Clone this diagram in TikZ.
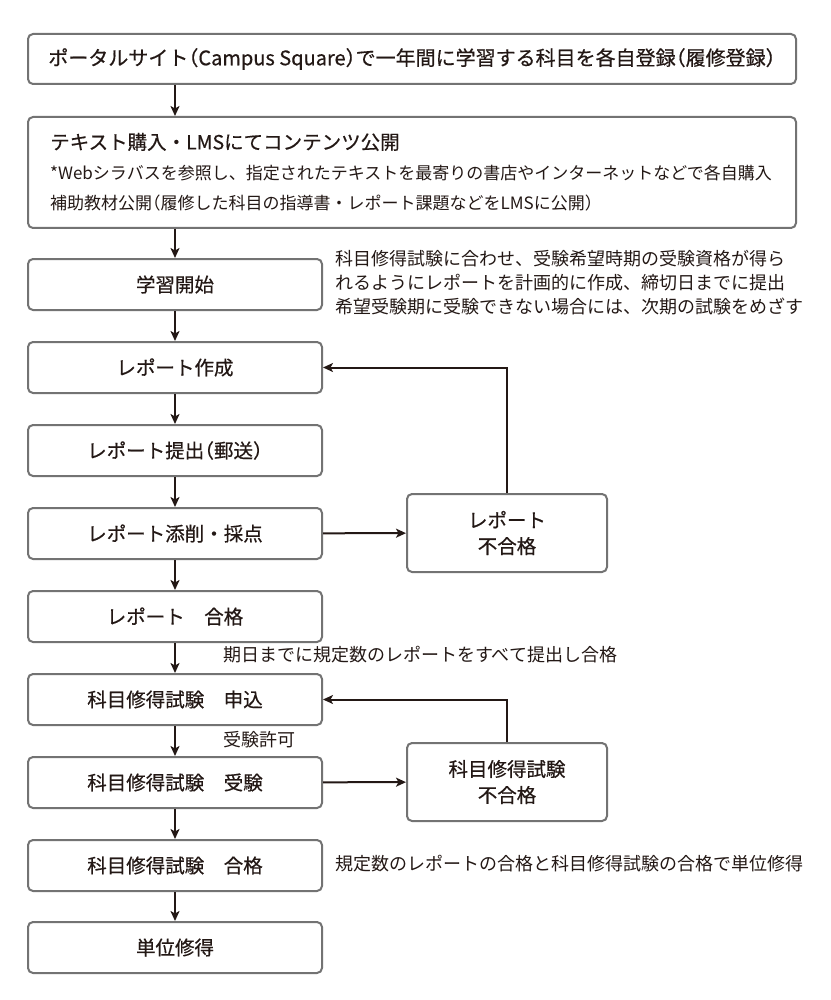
\documentclass[tikz,border=0pt]{standalone}
\usepackage{fontspec}
\setmainfont{Noto Sans CJK JP}
\newfontfamily\medfont[FakeBold=0.5]{Noto Sans CJK JP}
\newcommand{\lpar}{{\addfontfeature{RawFeature=+halt}（}}
\newcommand{\rpar}{{\addfontfeature{RawFeature=+halt}）}}
\usetikzlibrary{arrows.meta,calc}
\definecolor{boxgray}{HTML}{737373}
\definecolor{ink}{HTML}{231815}
\tikzset{
  box/.style={draw=boxgray, line width=2pt, rounded corners=5pt, fill=white,
    anchor=north west, inner sep=0pt, text=ink, align=center,
    font=\medfont\fontsize{19.5}{26}\selectfont},
  leftbox/.style={box, minimum width=294pt, minimum height=51pt},
  rightbox/.style={box, minimum width=200pt, minimum height=78pt},
  arr/.style={draw=ink, line width=2pt, -{Stealth[length=10pt,width=9pt,inset=2.5pt]}},
  note/.style={text=ink, inner sep=0pt, align=left, font=\fontsize{18}{24}\selectfont},
  txt/.style={text=ink, inner sep=0pt, anchor=west}
}
\begin{document}
\begin{tikzpicture}[x=1pt,y=-1pt]
\useasboundingbox (0,0) rectangle (830,1000);
% top boxes
\node[box, minimum width=768pt, minimum height=50pt, font=\medfont\fontsize{20}{26}\selectfont] (b1) at (27,33)
  {ポータルサイト\lpar Campus Square\rpar で一年間に学習する科目を各自登録\lpar 履修登録\rpar};
\node[box, minimum width=768pt, minimum height=111pt] (b2) at (27,116) {};
\node[txt, font=\medfont\fontsize{19.5}{24}\selectfont] (t2a) at (50,142) {テキスト購入・LMSにてコンテンツ公開};
\node[txt, font=\fontsize{17}{22}\selectfont] (t2b) at (50,173) {*Webシラバスを参照し、指定されたテキストを最寄りの書店やインターネットなどで各自購入};
\node[txt, font=\fontsize{17}{22}\selectfont] (t2c) at (50,203) {補助教材公開\lpar 履修した科目の指導書・レポート課題などをLMSに公開\rpar};
% left column
\node[leftbox] (b3) at (27,258) {学習開始};
\node[leftbox] (b4) at (27,341) {レポート作成};
\node[leftbox] (b5) at (27,424) {レポート提出\lpar 郵送\rpar};
\node[leftbox] (b6) at (27,507) {レポート添削・採点};
\node[leftbox] (b7) at (27,590) {レポート　合格};
\node[leftbox] (b8) at (27,673) {科目修得試験　申込};
\node[leftbox] (b9) at (27,756) {科目修得試験　受験};
\node[leftbox] (b10) at (27,839) {科目修得試験　合格};
\node[leftbox] (b11) at (27,921) {単位修得};
% right boxes
\node[rightbox] (r1) at (406,493) {レポート\\不合格};
\node[rightbox] (r2) at (406,742) {科目修得試験\\不合格};
% notes
\node[note, anchor=west] (n1) at (335,283) {科目修得試験に合わせ、受験希望時期の受験資格が得ら\\れるようにレポートを計画的に作成、締切日までに提出\\希望受験期に受験できない場合には、次期の試験をめざす};
\node[note, anchor=west] (n2) at (223,655) {期日までに規定数のレポートをすべて提出し合格};
\node[note, anchor=west] (n3) at (223,740) {受験許可};
\node[note, anchor=west] (n4) at (335,864) {規定数のレポートの合格と科目修得試験の合格で単位修得};
% arrows
\draw[arr] (b1.south -| b3) -- (b2.north -| b3);
\draw[arr] (b2.south -| b3) -- (b3.north);
\draw[arr] (b3) -- (b4);
\draw[arr] (b4) -- (b5);
\draw[arr] (b5) -- (b6);
\draw[arr] (b6) -- (b7);
\draw[arr] (b7) -- (b8);
\draw[arr] (b8) -- (b9);
\draw[arr] (b9) -- (b10);
\draw[arr] (b10) -- (b11);
\draw[arr] (b6) -- (r1);
\draw[arr] (b9) -- (r2);
\draw[arr] (r1.north) |- (b4.east);
\draw[arr] (r2.north) |- (b8.east);
\end{tikzpicture}
\end{document}
